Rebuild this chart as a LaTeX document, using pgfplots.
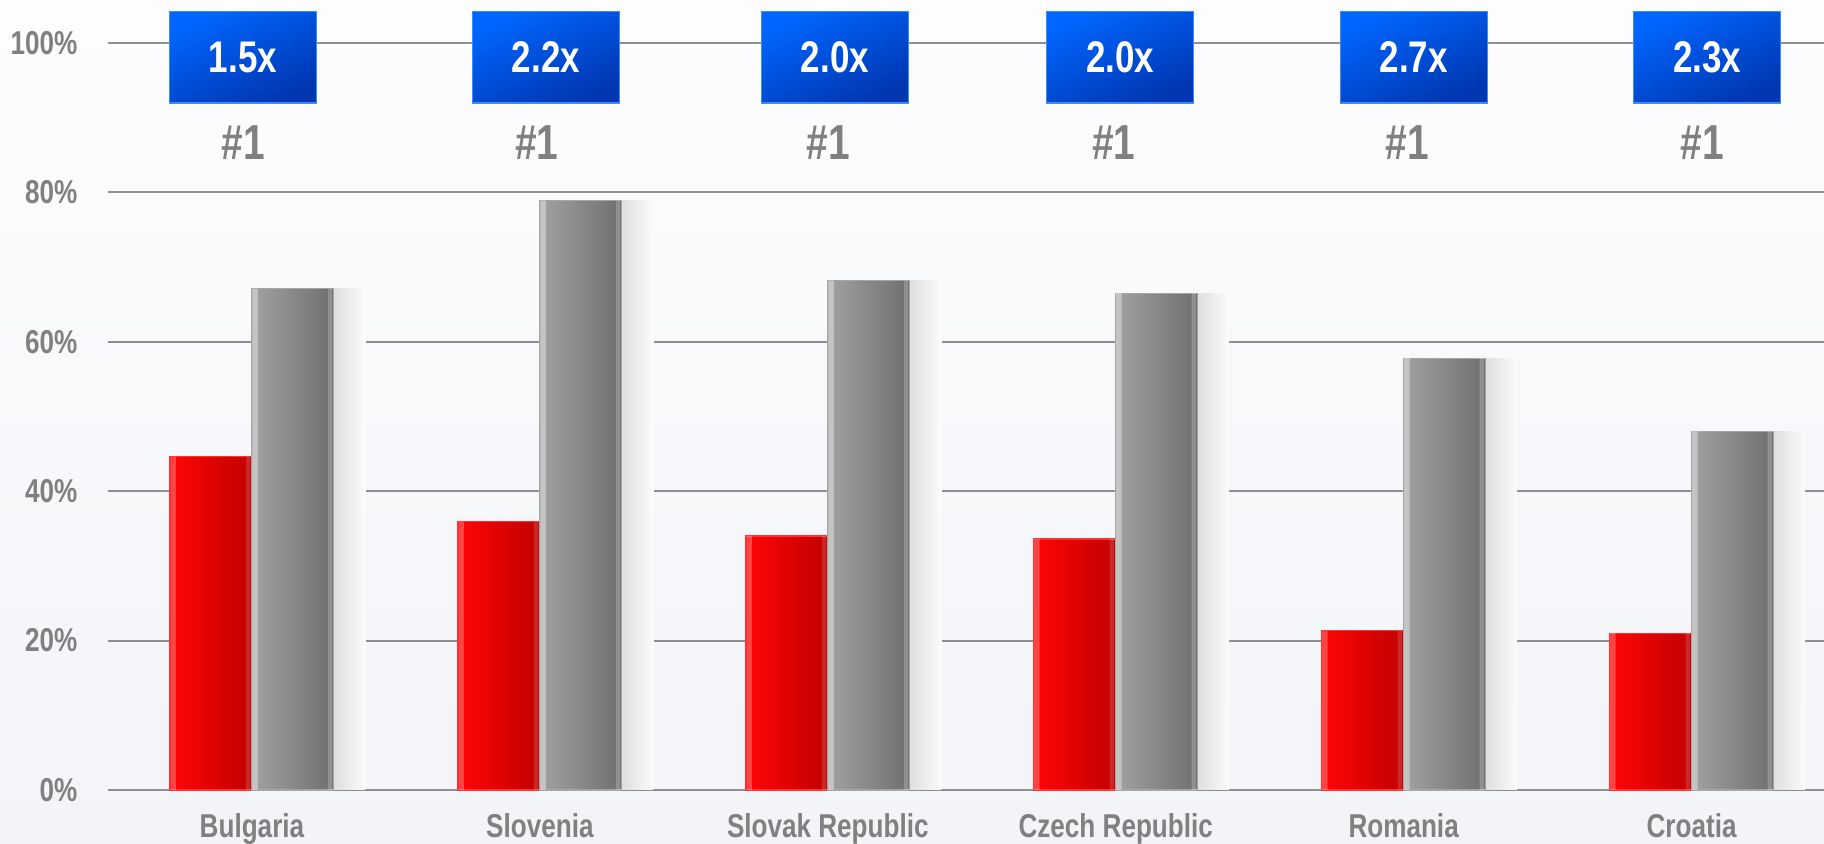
\documentclass[border=0pt]{standalone}
\usepackage{pgfplots}
\pgfplotsset{compat=1.18}
\usepackage{pgfplotstable}
\usepackage{fontspec}
\setmainfont{Liberation Sans}[FakeStretch=0.79]
\definecolor{txtgray}{HTML}{808080}
\definecolor{gridgray}{HTML}{8E8E8E}
\definecolor{bgtop}{HTML}{FDFDFE}
\definecolor{bgbot}{HTML}{F2F4F8}
\definecolor{redL}{HTML}{FF0606}
\definecolor{redR}{HTML}{C20000}
\definecolor{grayL}{HTML}{A2A2A2}
\definecolor{grayR}{HTML}{6E6E6E}
\definecolor{shadowL}{HTML}{DEDEDE}
\definecolor{shadowR}{HTML}{FCFCFD}
\definecolor{boxT}{HTML}{0066FF}
\definecolor{boxB}{HTML}{0036B0}
\definecolor{boxEdge}{HTML}{3C8CFF}

\pgfplotstableread{
x r g
0 44.6 67.1
1 35.9 78.9
2 34.0 68.2
3 33.6 66.5
4 21.3 57.8
5 21.0 48.0
}\datatable

\pgfplotstableread{
x y lab
-0.031 98.1 1.5x
1.021 98.1 2.2x
2.025 98.1 2.0x
3.015 98.1 2.0x
4.035 98.1 2.7x
5.054 98.1 2.3x
}\boxtable

\pgfplotstableread{
x y
-0.031 86.7
0.990 86.7
2.001 86.7
2.994 86.7
4.012 86.7
5.037 86.7
}\ranktable

\begin{document}
\begin{tikzpicture}
\shade[top color=bgtop, bottom color=bgbot] (0,0) rectangle (182.4mm,84.4mm);
\begin{axis}[
  at={(10.8mm,5.4mm)}, anchor=south west,
  scale only axis, width=171.6mm, height=79mm,
  xmin=-0.5, xmax=5.46, ymin=0, ymax=105.76,
  axis line style={draw=none},
  major tick length=0pt,
  xtick={0,1,2,3,4,5},
  xticklabels={Bulgaria,Slovenia,Slovak Republic,Czech Republic,Romania,Croatia},
  ytick={0,20,40,60,80,100},
  yticklabels={0\%,20\%,40\%,60\%,80\%,100\%},
  ymajorgrids,
  grid style={gridgray, line width=0.6pt},
  xticklabel style={anchor=base, yshift=-4.8mm, inner sep=0pt, text=txtgray,
    font=\fontsize{9.4}{11}\selectfont\bfseries},
  yticklabel style={anchor=east, xshift=-3mm, inner sep=0pt, text=txtgray,
    font=\fontsize{9.4}{11}\selectfont\bfseries},
  clip=false,
]
\pgfplotsinvokeforeach{0,1,2,3,4,5}{
% soft shadow to the right of the grey bar
\addplot[ybar, bar width=3.2mm, bar shift=9.75mm, draw=none,
  left color=shadowL, right color=shadowR, restrict x to domain=#1:#1] table[x=x,y=g] \datatable;
% red bar
\addplot[ybar, bar width=8.2mm, bar shift=-4.1mm, draw={rgb,255:red,255;green,50;blue,50}, line width=0.3pt,
  left color=redL, right color=redR, restrict x to domain=#1:#1] table[x=x,y=r] \datatable;
% grey bar
\addplot[ybar, bar width=8.2mm, bar shift=4.1mm, draw={rgb,255:red,165;green,165;blue,165}, line width=0.3pt,
  left color=grayL, right color=grayR, restrict x to domain=#1:#1] table[x=x,y=g] \datatable;
}
% bevel highlights (left and right edges)
\addplot[ybar, bar width=0.55mm, bar shift=-7.875mm, draw=none, fill=white, fill opacity=0.25] table[x=x,y=r] \datatable;
\addplot[ybar, bar width=0.45mm, bar shift=-0.375mm, draw=none, fill=white, fill opacity=0.15] table[x=x,y=r] \datatable;
\addplot[ybar, bar width=0.55mm, bar shift=0.325mm, draw=none, fill=white, fill opacity=0.38] table[x=x,y=g] \datatable;
\addplot[ybar, bar width=0.45mm, bar shift=7.825mm, draw=none, fill=white, fill opacity=0.22] table[x=x,y=g] \datatable;
% blue boxes
\addplot[draw=none, mark=none, nodes near coords, point meta=explicit symbolic,
  nodes near coords align=center,
  every node near coord/.style={anchor=center, rectangle, minimum width=14.7mm, minimum height=9.15mm,
    inner sep=0pt, draw=boxEdge, line width=0.4pt, top color=boxT, bottom color=boxB, shading angle=25,
    text=white, font=\fontsize{12.6}{14}\selectfont\bfseries}
  ] table[x=x,y=y,meta=lab] \boxtable;
% rank labels
\addplot[draw=none, mark=none, nodes near coords={\#1},
  nodes near coords align=center,
  every node near coord/.style={anchor=center, inner sep=0pt, text=txtgray,
    font=\fontsize{14}{16}\selectfont\bfseries}
  ] table[x=x,y=y] \ranktable;
\end{axis}
\pgfresetboundingbox
\path[use as bounding box] (0,0) rectangle (182.4mm,84.4mm);
\end{tikzpicture}
\end{document}
